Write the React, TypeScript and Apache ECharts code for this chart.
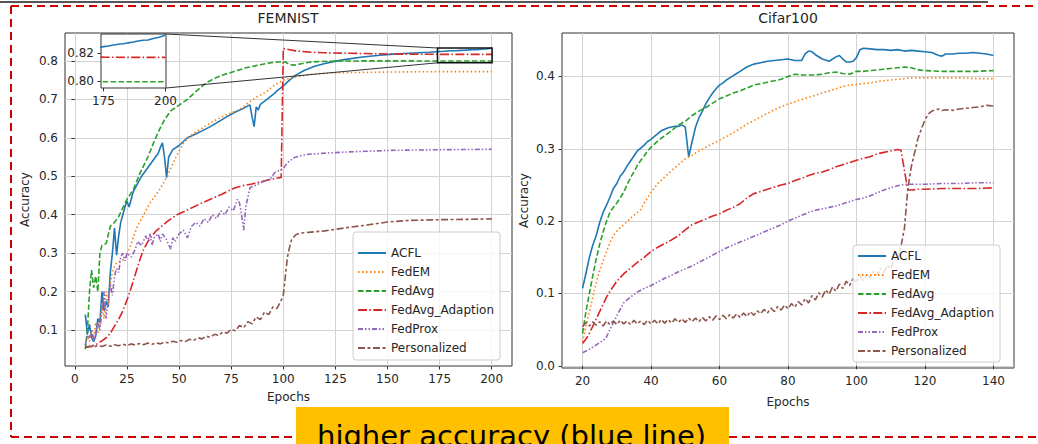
import React, { useEffect, useRef } from 'react';
import * as echarts from 'echarts';

const seriesNames = ['ACFL', 'FedEM', 'FedAvg', 'FedAvg_Adaption', 'FedProx', 'Personalized'];

const femnistXTicks = [0, 25, 50, 75, 100, 125, 150, 175, 200];
const femnistYTicks = [0.1, 0.2, 0.3, 0.4, 0.5, 0.6, 0.7, 0.8];
const cifarXTicks = [20, 40, 60, 80, 100, 120, 140];
const cifarYTicks = [0, 0.1, 0.2, 0.3, 0.4];
const insetXTicks = [175, 200];
const insetYTicks = [0.8, 0.82];

const femnistXRange = [-4.75, 209.75];
const femnistYRange = [0.0065, 0.8725];
const cifarXRange = [14, 146];
const cifarYRange = [-0.003, 0.46];
const insetXRange = [174, 200.2];
const insetYRange = [0.795, 0.8335];

// ---------------- FEMNIST ----------------
const femnistACFL = [[5,0.14],[6,0.09],[7,0.115],[8,0.08],[9,0.07],[10,0.085],[11,0.13],[12,0.12],[13,0.2],[14,0.15],[15,0.175],[16,0.16],[17,0.25],[18,0.3],[19,0.365],[20,0.295],[21,0.345],[22,0.38],[23,0.4],[24,0.42],[25,0.435],[26,0.42],[27,0.44],[28,0.46],[30,0.48],[32,0.5],[34,0.515],[36,0.53],[38,0.545],[40,0.56],[41,0.575],[42,0.587],[43,0.55],[44,0.496],[45,0.55],[47,0.569],[50,0.58],[54,0.6],[58,0.61],[61,0.618],[65,0.629],[69,0.642],[73,0.655],[77,0.667],[80,0.674],[83,0.683],[84,0.685],[85,0.655],[86,0.629],[87,0.68],[88,0.672],[89,0.687],[92,0.699],[95,0.712],[97,0.722],[100,0.735],[103,0.75],[106,0.763],[110,0.775],[115,0.786],[120,0.793],[124,0.798],[130,0.804],[138,0.81],[145,0.814],[151,0.817],[158,0.819],[165,0.821],[170,0.8225],[175,0.8245],[177,0.825],[179,0.8257],[181,0.8262],[183,0.8265],[185,0.8272],[187,0.8278],[189,0.8285],[191,0.829],[193,0.8292],[195,0.8303],[197,0.831],[199,0.832],[200,0.8333]];
const femnistFedEM = [[5,0.06],[6,0.085],[7,0.07],[8,0.1],[9,0.08],[10,0.12],[11,0.09],[12,0.11],[13,0.17],[14,0.13],[15,0.2],[16,0.165],[17,0.22],[18,0.25],[19,0.265],[20,0.275],[22,0.28],[24,0.285],[26,0.31],[28,0.34],[30,0.37],[32,0.39],[34,0.41],[36,0.43],[38,0.445],[40,0.46],[42,0.478],[44,0.496],[46,0.52],[48,0.545],[50,0.565],[52,0.585],[55,0.603],[58,0.615],[62,0.628],[66,0.642],[70,0.653],[75,0.665],[79,0.673],[83,0.69],[87,0.705],[92,0.72],[96,0.738],[100,0.75],[105,0.757],[110,0.762],[115,0.766],[125,0.769],[150,0.771],[175,0.772],[200,0.772]];
const femnistFedAvg = [[5,0.05],[6,0.1],[7,0.2],[8,0.256],[9,0.21],[10,0.24],[11,0.2],[12,0.3],[13,0.32],[15,0.325],[17,0.37],[19,0.38],[21,0.395],[23,0.418],[25,0.44],[28,0.465],[31,0.505],[35,0.55],[38,0.59],[40,0.615],[43,0.647],[46,0.67],[50,0.685],[54,0.7],[58,0.72],[63,0.743],[68,0.757],[72,0.765],[76,0.772],[82,0.782],[89,0.79],[94,0.795],[99,0.798],[101,0.797],[103,0.79],[105,0.789],[108,0.792],[112,0.796],[116,0.798],[125,0.7995],[140,0.8],[160,0.8],[175,0.7995],[190,0.7995],[200,0.7995]];
const femnistFedAvgAdaption = [[5,0.055],[8,0.058],[10,0.062],[13,0.072],[15,0.08],[17,0.092],[19,0.11],[21,0.128],[23,0.15],[25,0.178],[27,0.21],[29,0.245],[31,0.28],[33,0.31],[35,0.33],[37,0.345],[39,0.358],[42,0.372],[45,0.385],[49,0.4],[55,0.415],[60,0.428],[65,0.44],[70,0.452],[76,0.468],[80,0.475],[85,0.48],[90,0.487],[95,0.493],[99,0.497],[100,0.832],[103,0.829],[106,0.826],[110,0.824],[115,0.822],[120,0.821],[130,0.82],[140,0.819],[150,0.818],[160,0.8175],[175,0.817],[185,0.8168],[200,0.8168]];
const femnistFedProx = [[5,0.06],[6,0.09],[7,0.08],[8,0.1],[9,0.07],[10,0.09],[11,0.12],[12,0.1],[13,0.15],[14,0.2],[15,0.13],[16,0.18],[17,0.22],[18,0.19],[19,0.24],[20,0.26],[21,0.25],[22,0.29],[23,0.3],[24,0.28],[25,0.3],[27,0.29],[29,0.31],[30,0.33],[32,0.32],[34,0.345],[35,0.33],[36,0.35],[37,0.32],[38,0.34],[40,0.35],[41,0.33],[42,0.35],[44,0.335],[46,0.31],[47,0.34],[48,0.33],[50,0.35],[52,0.36],[54,0.34],[56,0.37],[58,0.38],[60,0.37],[62,0.39],[64,0.38],[66,0.4],[68,0.39],[70,0.41],[72,0.4],[74,0.42],[76,0.41],[78,0.44],[79,0.43],[80,0.4],[81,0.36],[82,0.42],[84,0.47],[86,0.475],[88,0.48],[90,0.485],[92,0.49],[94,0.495],[96,0.51],[98,0.515],[100,0.52],[102,0.535],[105,0.548],[108,0.553],[112,0.557],[120,0.56],[130,0.563],[140,0.565],[150,0.567],[160,0.568],[175,0.569],[200,0.57]];
const femnistPersonalized = [[5,0.055],[7,0.058],[9,0.056],[11,0.06],[13,0.057],[15,0.061],[17,0.058],[19,0.062],[21,0.059],[23,0.063],[25,0.06],[27,0.064],[29,0.061],[31,0.065],[33,0.062],[35,0.066],[37,0.063],[39,0.067],[41,0.064],[43,0.069],[45,0.066],[47,0.071],[49,0.068],[51,0.073],[53,0.07],[55,0.076],[57,0.073],[59,0.08],[61,0.077],[63,0.084],[65,0.081],[67,0.089],[69,0.086],[71,0.095],[73,0.092],[75,0.102],[77,0.098],[79,0.112],[81,0.106],[83,0.122],[85,0.116],[87,0.134],[89,0.127],[91,0.147],[93,0.14],[95,0.16],[97,0.156],[99,0.178],[100,0.19],[101,0.24],[102,0.29],[103,0.315],[104,0.335],[106,0.348],[108,0.352],[112,0.354],[120,0.358],[130,0.366],[140,0.373],[150,0.381],[160,0.385],[175,0.387],[190,0.388],[200,0.389]];

// ---------------- Cifar100 ----------------
const cifarACFL = [[20,0.107],[21,0.128],[22,0.15],[23,0.167],[24,0.18],[25,0.198],[26,0.212],[27,0.222],[28,0.233],[29,0.245],[30,0.252],[31,0.262],[32,0.268],[33,0.276],[34,0.283],[35,0.29],[36,0.297],[37,0.301],[38,0.305],[39,0.31],[40,0.313],[41,0.317],[42,0.321],[43,0.325],[44,0.327],[45,0.329],[46,0.33],[47,0.331],[48,0.331],[49,0.333],[50,0.33],[51,0.289],[52,0.31],[53,0.33],[54,0.343],[55,0.352],[56,0.362],[57,0.37],[58,0.377],[59,0.383],[60,0.388],[61,0.391],[62,0.395],[63,0.398],[64,0.401],[65,0.404],[66,0.407],[67,0.41],[68,0.413],[69,0.415],[70,0.417],[72,0.419],[74,0.421],[76,0.422],[78,0.423],[80,0.424],[82,0.422],[84,0.422],[85,0.431],[86,0.435],[87,0.434],[88,0.43],[90,0.424],[92,0.421],[94,0.427],[95,0.429],[96,0.424],[97,0.42],[98,0.42],[99,0.421],[100,0.426],[101,0.437],[102,0.439],[104,0.438],[106,0.437],[108,0.437],[110,0.436],[112,0.437],[114,0.435],[116,0.436],[118,0.435],[120,0.434],[122,0.433],[124,0.429],[125,0.428],[126,0.431],[128,0.431],[130,0.432],[132,0.432],[134,0.433],[136,0.432],[138,0.431],[140,0.429]];
const cifarFedEM = [[20,0.033],[21,0.055],[22,0.075],[23,0.095],[24,0.115],[25,0.132],[26,0.145],[27,0.158],[28,0.17],[29,0.18],[30,0.186],[31,0.191],[32,0.195],[33,0.199],[34,0.204],[35,0.208],[36,0.212],[37,0.216],[38,0.225],[39,0.232],[40,0.24],[42,0.252],[44,0.261],[46,0.27],[48,0.278],[50,0.286],[52,0.291],[54,0.297],[56,0.302],[58,0.307],[60,0.312],[62,0.317],[64,0.322],[66,0.328],[68,0.334],[70,0.339],[72,0.344],[74,0.349],[76,0.354],[78,0.358],[80,0.362],[82,0.365],[84,0.368],[86,0.371],[88,0.374],[90,0.377],[92,0.38],[94,0.383],[96,0.386],[98,0.388],[100,0.389],[102,0.39],[104,0.391],[106,0.393],[108,0.394],[110,0.395],[112,0.396],[114,0.397],[116,0.398],[120,0.398],[125,0.398],[130,0.398],[135,0.397],[140,0.397]];
const cifarFedAvg = [[20,0.045],[21,0.075],[22,0.1],[23,0.125],[24,0.148],[25,0.168],[26,0.185],[27,0.2],[28,0.212],[29,0.219],[30,0.225],[31,0.232],[32,0.24],[33,0.25],[34,0.26],[35,0.268],[36,0.277],[37,0.284],[38,0.29],[39,0.297],[40,0.302],[42,0.311],[44,0.318],[46,0.325],[48,0.333],[50,0.338],[52,0.346],[54,0.352],[56,0.357],[58,0.363],[60,0.369],[62,0.373],[64,0.377],[66,0.38],[68,0.384],[70,0.388],[72,0.39],[74,0.392],[76,0.394],[78,0.396],[80,0.4],[82,0.403],[84,0.402],[86,0.402],[88,0.402],[90,0.403],[92,0.405],[94,0.406],[96,0.404],[98,0.403],[100,0.407],[102,0.407],[104,0.408],[106,0.409],[108,0.41],[110,0.411],[112,0.412],[114,0.413],[116,0.412],[118,0.409],[120,0.408],[125,0.407],[130,0.407],[135,0.407],[140,0.408]];
const cifarFedAvgAdaption = [[20,0.031],[21,0.037],[22,0.045],[23,0.055],[24,0.065],[25,0.075],[26,0.085],[27,0.095],[28,0.103],[29,0.11],[30,0.117],[32,0.127],[34,0.135],[36,0.143],[38,0.15],[40,0.158],[42,0.164],[44,0.169],[46,0.174],[48,0.18],[50,0.188],[52,0.195],[54,0.199],[56,0.203],[58,0.207],[60,0.21],[62,0.215],[64,0.219],[66,0.224],[68,0.232],[70,0.238],[72,0.241],[74,0.244],[76,0.247],[78,0.25],[80,0.252],[82,0.256],[84,0.259],[86,0.263],[88,0.266],[90,0.268],[92,0.271],[94,0.275],[96,0.278],[98,0.281],[100,0.284],[102,0.287],[104,0.289],[106,0.293],[108,0.295],[110,0.297],[112,0.299],[113,0.298],[114,0.27],[115,0.243],[116,0.243],[118,0.244],[120,0.244],[125,0.245],[130,0.245],[135,0.245],[140,0.246]];
const cifarFedProx = [[20,0.018],[22,0.023],[24,0.029],[26,0.035],[27,0.04],[28,0.05],[29,0.06],[30,0.069],[31,0.078],[32,0.087],[34,0.095],[36,0.102],[38,0.107],[40,0.111],[42,0.116],[44,0.121],[46,0.125],[48,0.13],[50,0.134],[52,0.138],[54,0.143],[56,0.148],[58,0.153],[60,0.158],[62,0.163],[64,0.167],[66,0.171],[68,0.175],[70,0.179],[72,0.183],[74,0.187],[76,0.191],[78,0.195],[80,0.2],[82,0.204],[84,0.208],[86,0.212],[88,0.215],[90,0.217],[92,0.219],[94,0.221],[96,0.224],[98,0.227],[100,0.23],[102,0.232],[104,0.235],[106,0.239],[108,0.243],[110,0.246],[112,0.249],[114,0.251],[116,0.251],[120,0.251],[125,0.252],[130,0.252],[135,0.253],[140,0.253]];
const cifarPersonalized = [[20,0.054],[21,0.06],[22,0.055],[23,0.061],[24,0.056],[25,0.061],[26,0.055],[27,0.062],[28,0.057],[29,0.062],[30,0.057],[31,0.063],[32,0.058],[33,0.062],[34,0.057],[35,0.063],[36,0.058],[37,0.062],[38,0.057],[39,0.063],[40,0.058],[41,0.063],[42,0.058],[43,0.064],[44,0.059],[45,0.064],[46,0.059],[47,0.065],[48,0.06],[49,0.065],[50,0.06],[51,0.066],[52,0.061],[53,0.066],[54,0.061],[55,0.067],[56,0.062],[57,0.068],[58,0.063],[59,0.069],[60,0.064],[61,0.07],[62,0.065],[63,0.071],[64,0.066],[65,0.072],[66,0.067],[67,0.073],[68,0.068],[69,0.075],[70,0.07],[71,0.076],[72,0.072],[73,0.078],[74,0.073],[75,0.08],[76,0.075],[77,0.082],[78,0.077],[79,0.084],[80,0.079],[81,0.086],[82,0.081],[83,0.089],[84,0.084],[85,0.093],[86,0.087],[87,0.097],[88,0.091],[89,0.101],[90,0.095],[91,0.105],[92,0.099],[93,0.109],[94,0.103],[95,0.113],[96,0.107],[97,0.117],[98,0.111],[99,0.121],[100,0.115],[101,0.124],[102,0.118],[103,0.127],[104,0.121],[105,0.131],[106,0.125],[107,0.135],[108,0.129],[109,0.139],[110,0.134],[111,0.148],[112,0.145],[113,0.165],[114,0.19],[115,0.245],[116,0.275],[117,0.295],[118,0.315],[119,0.328],[120,0.34],[121,0.348],[122,0.352],[123,0.354],[124,0.355],[125,0.353],[126,0.354],[128,0.353],[130,0.355],[132,0.356],[134,0.357],[136,0.358],[138,0.36],[140,0.359]];

const femnistData = [femnistACFL, femnistFedEM, femnistFedAvg, femnistFedAvgAdaption, femnistFedProx, femnistPersonalized];
const cifarData = [cifarACFL, cifarFedEM, cifarFedAvg, cifarFedAvgAdaption, cifarFedProx, cifarPersonalized];

// styles
const colors = ['#1f77b4', '#ff7f0e', '#2ca02c', '#d62728', '#9467bd', '#8c564b'];
const dashes: any[] = ['solid', [1.5, 2.5], [5.5, 2.4], [9, 2.4, 1.5, 2.4], [5, 2, 1.5, 2, 1.5, 2], [7, 2.5, 3, 2.5]];
const FONT = 'DejaVu Sans';
const TXT = '#262626';

function makeSeries(data: number[][][], axisIndex: number, z: number) {
  return data.map((d, i) => ({
    type: 'line',
    name: seriesNames[i],
    data: d,
    xAxisIndex: axisIndex,
    yAxisIndex: axisIndex,
    symbol: 'none',
    showSymbol: false,
    clip: true,
    z,
    lineStyle: { color: colors[i], width: 1.6, type: dashes[i] },
    itemStyle: { color: colors[i] },
    emphasis: { disabled: true },
  }));
}

function valueAxis(gridIndex: number, range: number[], ticks: number[], decimals: number | null, extra: any) {
  return {
    type: 'value',
    gridIndex,
    min: range[0],
    max: range[1],
    axisLine: { show: false },
    axisTick: { show: true, length: 3.5, customValues: ticks, lineStyle: { color: '#333', width: 1 } },
    axisLabel: {
      customValues: ticks,
      fontSize: 12,
      fontFamily: FONT,
      color: TXT,
      margin: 7,
      formatter: (v: number) => (decimals === null ? String(Math.round(v)) : v.toFixed(decimals)),
    },
    splitLine: { show: true, lineStyle: { color: '#d3d3d3', width: 1 } },
    nameTextStyle: { fontSize: 12, fontFamily: FONT, color: TXT },
    ...extra,
  };
}

function legendOpt(left: number, top: number, padding: number[]) {
  return {
    orient: 'vertical',
    left,
    top,
    padding,
    itemWidth: 28,
    itemHeight: 12,
    itemGap: 7,
    data: seriesNames,
    selectedMode: false,
    itemStyle: { opacity: 0 },
    textStyle: { fontSize: 12, fontFamily: FONT, color: TXT },
    backgroundColor: 'rgba(255,255,255,0.8)',
    borderColor: '#cccccc',
    borderWidth: 1,
    borderRadius: 3,
  };
}

export default function App() {
  const ref = useRef<HTMLDivElement>(null);
  useEffect(() => {
    document.body.style.margin = '0';
    const chart = echarts.init(ref.current!, null, { renderer: 'svg' });
    const option: any = {
      animation: false,
      backgroundColor: '#ffffff',
      grid: [
        { left: 65, top: 33, width: 447, height: 333, show: true, borderColor: '#333', borderWidth: 1, backgroundColor: 'transparent' },
        { left: 562, top: 33, width: 452, height: 335, show: true, borderColor: '#333', borderWidth: 1, backgroundColor: 'transparent' },
        { left: 101, top: 34, width: 65, height: 54, show: true, borderColor: '#333', borderWidth: 1, backgroundColor: '#ffffff', z: 5 },
      ],
      xAxis: [
        valueAxis(0, femnistXRange, femnistXTicks, null, { name: 'Epochs', nameLocation: 'middle', nameGap: 25 }),
        valueAxis(1, cifarXRange, cifarXTicks, null, { name: 'Epochs', nameLocation: 'middle', nameGap: 28 }),
        valueAxis(2, insetXRange, insetXTicks, null, { z: 6, splitLine: { show: false } }),
      ],
      yAxis: [
        valueAxis(0, femnistYRange, femnistYTicks, 1, { name: 'Accuracy', nameLocation: 'middle', nameGap: 34 }),
        valueAxis(1, cifarYRange, cifarYTicks, 1, { name: 'Accuracy', nameLocation: 'middle', nameGap: 32 }),
        valueAxis(2, insetYRange, insetYTicks, 2, { z: 6, splitLine: { show: false } }),
      ],
      legend: [legendOpt(353, 232, [15, 6, 6, 4]), legendOpt(853, 245, [5, 6, 5, 4])],
      series: [
        ...makeSeries(femnistData, 0, 2),
        ...makeSeries(cifarData, 1, 2),
        ...makeSeries(femnistData, 2, 7),
      ],
    };
    chart.setOption(option);

    const rectTL = chart.convertToPixel({ gridIndex: 0 } as any, [insetXRange[0], insetYRange[1]]) as number[];
    const rectBR = chart.convertToPixel({ gridIndex: 0 } as any, [insetXRange[1], insetYRange[0]]) as number[];
    const insTR = chart.convertToPixel({ gridIndex: 2 } as any, [insetXRange[1], insetYRange[1]]) as number[];
    const insBR = chart.convertToPixel({ gridIndex: 2 } as any, [insetXRange[1], insetYRange[0]]) as number[];

    const red = '#cc0000';
    const dash = [8, 5];
    chart.setOption({
      graphic: [
        { type: 'line', z: 20, shape: { x1: 0, y1: 2, x2: 988, y2: 2 }, style: { stroke: '#555', lineWidth: 2 } },
        { type: 'line', z: 20, shape: { x1: 11, y1: 6, x2: 1038, y2: 6 }, style: { stroke: red, lineWidth: 2, lineDash: dash } },
        { type: 'line', z: 20, shape: { x1: 11, y1: 6, x2: 11, y2: 437 }, style: { stroke: red, lineWidth: 2, lineDash: dash } },
        { type: 'line', z: 20, shape: { x1: 11, y1: 437, x2: 296, y2: 437 }, style: { stroke: red, lineWidth: 2, lineDash: dash } },
        { type: 'line', z: 20, shape: { x1: 729, y1: 437, x2: 1038, y2: 437 }, style: { stroke: red, lineWidth: 2, lineDash: dash } },
        { type: 'rect', z: 21, shape: { x: 296, y: 407, width: 433, height: 40 }, style: { fill: '#ffc000' } },
        { type: 'text', z: 22, x: 317, y: 436, style: { text: 'higher accuracy (blue line)', font: '29px "DejaVu Sans"', fill: '#000', verticalAlign: 'middle', align: 'left' } },
        { type: 'text', z: 22, x: 288, y: 18, style: { text: 'FEMNIST', font: '14px "DejaVu Sans"', fill: TXT, verticalAlign: 'middle', align: 'center' } },
        { type: 'text', z: 22, x: 788, y: 18, style: { text: 'Cifar100', font: '14px "DejaVu Sans"', fill: TXT, verticalAlign: 'middle', align: 'center' } },
        { type: 'rect', z: 20, shape: { x: rectTL[0], y: rectTL[1], width: rectBR[0] - rectTL[0], height: rectBR[1] - rectTL[1] }, style: { fill: 'none', stroke: '#111', lineWidth: 1.5 } },
        { type: 'line', z: 20, shape: { x1: insTR[0], y1: insTR[1], x2: rectTL[0], y2: rectTL[1] }, style: { stroke: '#333', lineWidth: 1 } },
        { type: 'line', z: 20, shape: { x1: insBR[0], y1: insBR[1], x2: rectTL[0], y2: rectBR[1] }, style: { stroke: '#333', lineWidth: 1 } },
      ],
    });
    return () => chart.dispose();
  }, []);
  return <div ref={ref} style={{ position: 'absolute', left: 0, top: 0, width: 1038, height: 444 }} />;
}
